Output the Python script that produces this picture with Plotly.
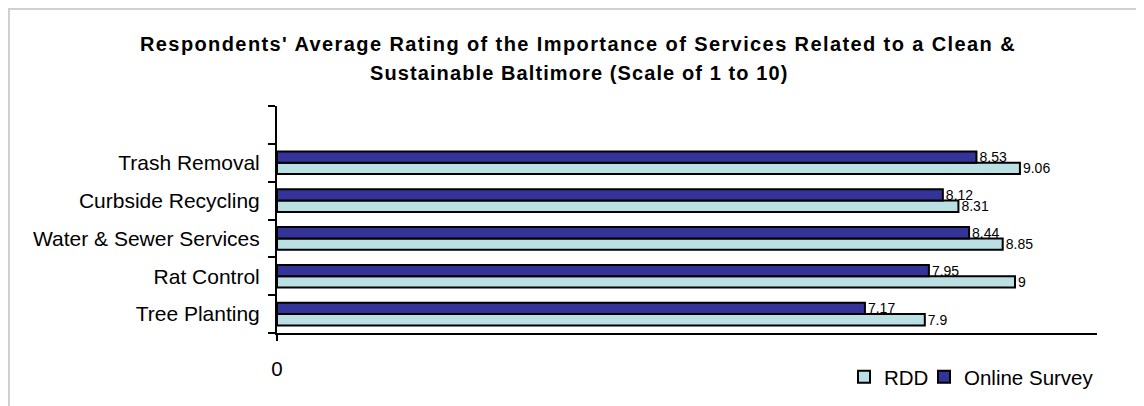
import plotly.graph_objects as go

# bottom to top, as plotted on the category axis
categories = [
    "Tree Planting",
    "Rat Control",
    "Water & Sewer Services",
    "Curbside Recycling",
    "Trash Removal",
]
rdd = [7.9, 9, 8.85, 8.31, 9.06]
online_survey = [7.17, 7.95, 8.44, 8.12, 8.53]

title_lines = [
    "Respondents' Average Rating of the Importance of Services Related to a Clean &",
    "Sustainable Baltimore (Scale of 1 to 10)",
]

FONT = "Liberation Sans, Arial, sans-serif"
# the page puts the figure 8px in from the window corner
OFF = 8
W, H = 1136, 398
L, R, T, B = 269, 47, 98, 73
pw, ph = W - L - R, H - T - B


def sx(px):
    # window pixel x -> paper x
    return (px - OFF - L) / pw


def sy(py):
    # window pixel y -> paper y
    return (H - B - (py - OFF)) / ph


fig = go.Figure()
for name, vals, color, leg in [
    ("RDD", rdd, "#BBE0E3", "legend"),
    ("Online Survey", online_survey, "#333399", "legend2"),
]:
    fig.add_trace(
        go.Bar(
            y=categories,
            x=vals,
            name=name,
            legend=leg,
            showlegend=True,
            orientation="h",
            marker=dict(color=color, line=dict(color="black", width=2)),
            text=vals,
            textposition="outside",
            constraintext="none",
            textfont=dict(family=FONT, size=14, color="black"),
            cliponaxis=False,
        )
    )

legend_style = dict(
    orientation="h",
    xanchor="left",
    y=sy(377),
    yanchor="middle",
    font=dict(size=20.5, family=FONT),
    bgcolor="rgba(0,0,0,0)",
)

fig.update_layout(
    width=W,
    height=H,
    margin=dict(l=L, r=R, t=T, b=B, autoexpand=False),
    paper_bgcolor="white",
    plot_bgcolor="white",
    font=dict(family=FONT, color="black"),
    showlegend=True,
    barmode="group",
    bargap=0.4,
    bargroupgap=0,
    title=dict(
        text='<b><span style="letter-spacing:1.4px">' + title_lines[0] + "</span></b>",
        x=(578 - OFF) / W,
        xanchor="center",
        xref="container",
        yref="container",
        y=1 - (44 - OFF) / H,
        yanchor="middle",
        font=dict(size=20, family=FONT, color="black"),
    ),
    legend=dict(x=sx(844), **legend_style),
    legend2=dict(x=sx(924), **legend_style),
    xaxis=dict(
        range=[0, 10],
        tickvals=[0],
        ticks="outside",
        ticklen=6,
        tickcolor="black",
        tickwidth=2,
        showline=True,
        linecolor="black",
        linewidth=2,
        showgrid=False,
        zeroline=False,
        tickfont=dict(size=20.5),
        ticklabelstandoff=10,
    ),
    yaxis=dict(
        categoryorder="array",
        categoryarray=categories + [" "],
        range=[-0.5, 5.5],
        tickson="boundaries",
        ticks="outside",
        ticklen=7,
        tickcolor="black",
        tickwidth=2,
        showline=True,
        linecolor="black",
        linewidth=2,
        showgrid=False,
        tickfont=dict(size=21),
        ticklabelstandoff=11,
    ),
    annotations=[
        dict(
            text='<b><span style="letter-spacing:1.1px">' + title_lines[1] + "</span></b>",
            xref="paper",
            yref="paper",
            x=sx(579),
            y=sy(73),
            xanchor="center",
            yanchor="middle",
            showarrow=False,
            font=dict(size=20, family=FONT, color="black"),
        )
    ],
    shapes=[
        dict(
            type="rect",
            xref="paper",
            yref="paper",
            x0=sx(OFF + 1),
            x1=sx(OFF + W + 10),
            y0=sy(OFF + H + 10),
            y1=sy(OFF + 1),
            line=dict(color="#D0D0D0", width=2),
            layer="below",
        )
    ],
)

fig.write_html("out.html")
